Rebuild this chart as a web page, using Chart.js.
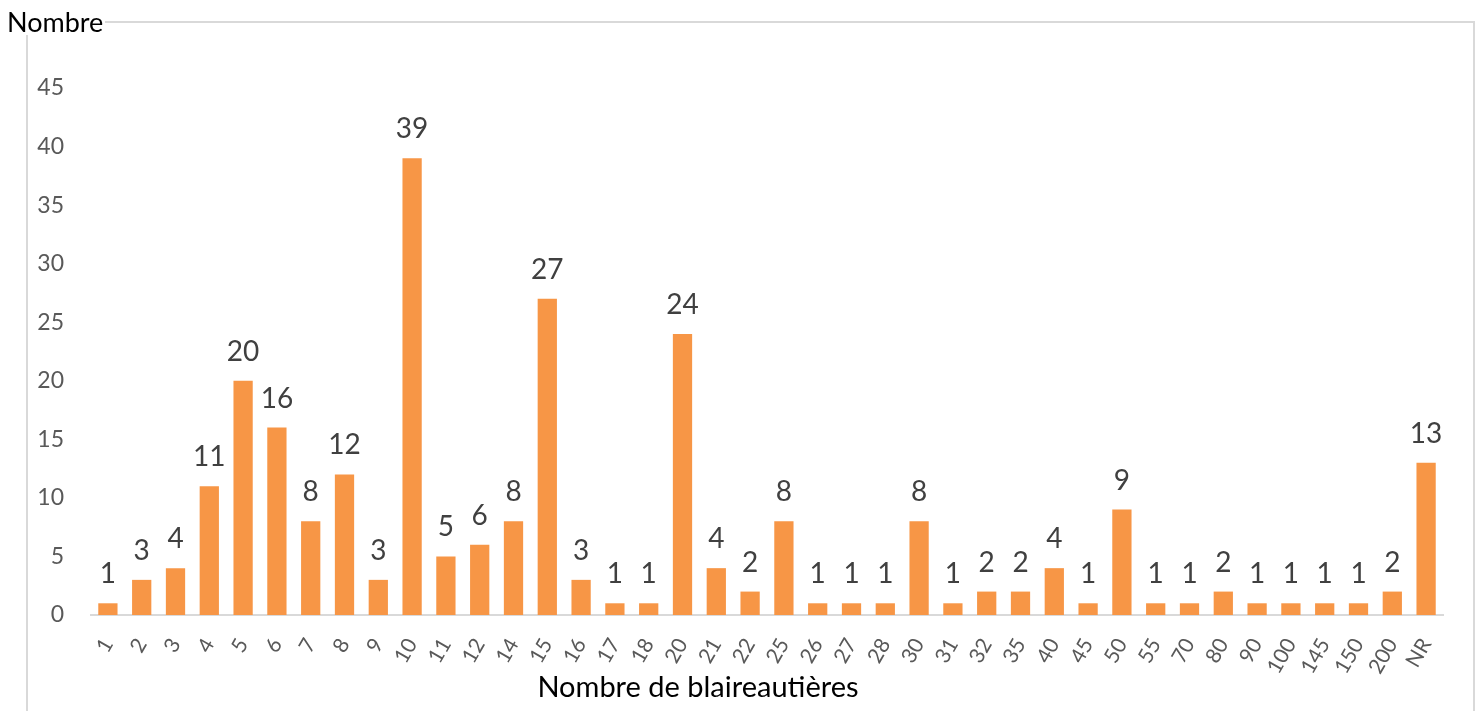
<!DOCTYPE html>
<html>
<head>
<meta charset="utf-8">
<script src="https://cdn.jsdelivr.net/npm/chart.js@4.4.0/dist/chart.umd.min.js"></script>
<style>
  html, body { margin: 0; padding: 0; background: #fff; }
  #wrap { position: relative; width: 1479px; height: 711px; overflow: hidden; font-family: Lato, "Open Sans", sans-serif; }
  #frame { position: absolute; left: 26px; top: 21px; width: 1445px; height: 720px; border: 2px solid #D9D9D9; border-bottom: none; }
  #ytitle { position: absolute; left: 7px; top: 8px; background: #fff; font-size: 27px; color: #000; line-height: 27px; padding-right: 2px; }
  #xtitle { position: absolute; left: 0; width: 1396px; top: 671px; text-align: center; font-size: 29px; line-height: 29px; color: #000; }
  #chart { position: absolute; left: 0; top: 0; }
</style>
</head>
<body>
<div id="wrap">
  <div id="frame"></div>
  <canvas id="chart" width="1479" height="711"></canvas>
  <div id="ytitle">Nombre</div>
  <div id="xtitle">Nombre de blaireautières</div>
</div>
<script>
// catégories (nombre de blaireautières) et effectifs
const categories = ["1","2","3","4","5","6","7","8","9","10","11","12","14","15","16","17","18","20","21","22",
  "25","26","27","28","30","31","32","35","40","45","50","55","70","80","90","100","145","150","200","NR"];
const counts = [1,3,4,11,20,16,8,12,3,39,5,6,8,27,3,1,1,24,4,2,
  8,1,1,1,8,1,2,2,4,1,9,1,1,2,1,1,1,1,2,13];
const yTicks = [0,5,10,15,20,25,30,35,40,45];

const FONT = "Lato, 'Open Sans', sans-serif";

// étiquettes de valeur au-dessus des barres
const valueLabels = {
  id: "valueLabels",
  afterDatasetsDraw(chart){
    const ctx = chart.ctx;
    const meta = chart.getDatasetMeta(0);
    ctx.save();
    ctx.fillStyle = "#404040";
    ctx.font = "28px " + FONT;
    ctx.textAlign = "center";
    ctx.textBaseline = "alphabetic";
    meta.data.forEach((bar, i) => {
      ctx.fillText(String(counts[i]), bar.x, bar.y - 20);
    });
    ctx.restore();
  }
};

new Chart(document.getElementById("chart"), {
  type: "bar",
  data: {
    labels: categories,
    datasets: [{
      data: counts,
      backgroundColor: "#F79646",
      borderWidth: 0,
      barPercentage: 0.57,
      categoryPercentage: 1.0
    }]
  },
  options: {
    responsive: false,
    animation: false,
    layout: { padding: { left: 0, right: 36, top: 88, bottom: 0 } },
    plugins: { legend: { display: false }, tooltip: { enabled: false } },
    scales: {
      x: {
        grid: { display: false, drawTicks: false },
        border: { display: true, color: "#D9D9D9", width: 2 },
        ticks: { color: "#595959", font: { family: FONT, size: 21 }, minRotation: 60, maxRotation: 60, padding: 19, autoSkip: false },
        afterFit(scale){ scale.height = 96; }
      },
      y: {
        min: 0, max: 45,
        afterBuildTicks(scale){ scale.ticks = yTicks.map(v => ({ value: v })); },
        grid: { display: false, drawTicks: false },
        border: { display: false },
        ticks: { color: "#595959", font: { family: FONT, size: 23 }, padding: 27 },
        afterFit(scale){ scale.width = 91; }
      }
    }
  },
  plugins: [valueLabels]
});
</script>
</body>
</html>
